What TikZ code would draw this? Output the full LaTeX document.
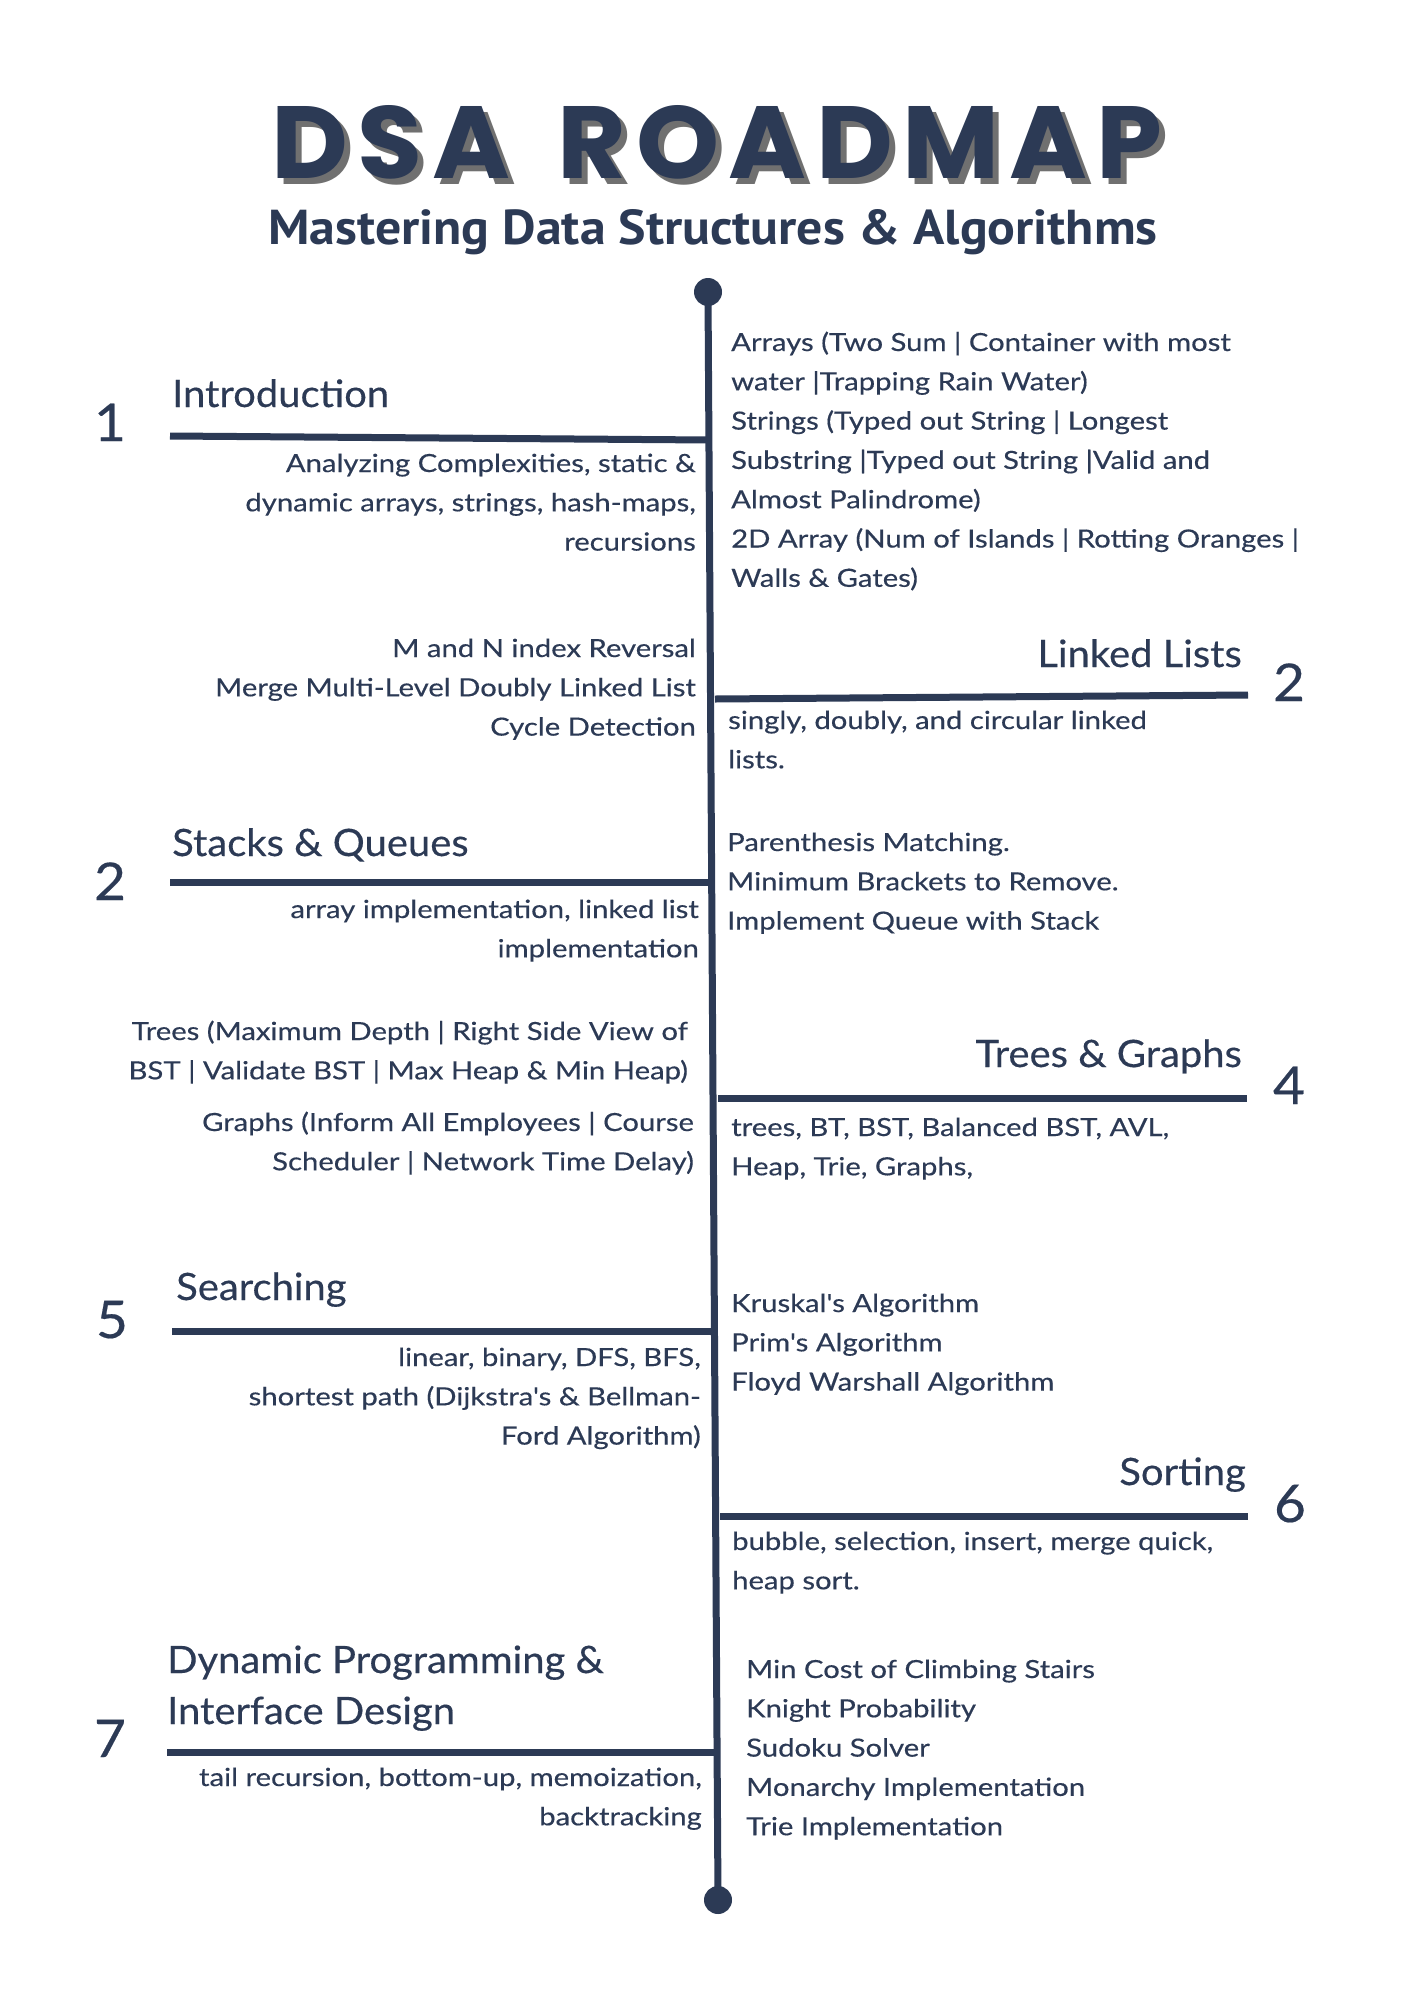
\documentclass[tikz,border=0pt]{standalone}
\usepackage{fontspec}
\usepackage{graphicx}
\setmainfont{Lato}
\newfontfamily\bodyfont{Lato}[FakeStretch=1.17,FakeBold=0.35]
\newfontfamily\headfont{Lato}[FakeStretch=1.06,FakeBold=0.35]
\newfontfamily\titlefont{Poppins}[LetterSpace=9]
\newfontfamily\subfont{PT Sans}
\definecolor{navy}{HTML}{2C3A55}
\definecolor{shadowgray}{HTML}{707070}
\newcommand{\Rblock}[1]{\begin{tabular}[t]{@{}r@{}}#1\end{tabular}}
\newcommand{\Lblock}[1]{\begin{tabular}[t]{@{}l@{}}#1\end{tabular}}
\newcommand{\TitleWord}{\resizebox{891pt}{73pt}{\titlefont\bfseries DSA\hspace{0.45em}ROADMAP}}
\tikzset{
  bodytext/.style={inner sep=0, text=navy, font=\bodyfont\fontsize{25}{39.3}\selectfont},
  headtext/.style={inner sep=0, text=navy, font=\headfont\fontsize{37.7}{51}\selectfont},
  numtext/.style={inner sep=0, text=navy, anchor=base, font=\headfont\fontsize{52}{60}\selectfont},
  spine/.style={draw=navy, line width=7pt},
  branch/.style={draw=navy, line width=7pt},
  enddot/.style={circle, fill=navy, inner sep=0, minimum size=28pt},
}
\begin{document}
\begin{tikzpicture}[x=1pt,y=-1pt]
\useasboundingbox[fill=white] (0,0) rectangle (1414,2000);

% title (with its grey shadow in the same node)
\node[anchor=base, inner sep=0] (title) at (717,178) {\makebox[0pt][l]{\hspace{6pt}\raisebox{-6pt}{\textcolor{shadowgray}{\TitleWord}}}\textcolor{navy}{\TitleWord}};
\node[anchor=base, text=navy, inner sep=0] (subtitle) at (713,244) {\resizebox{889pt}{35pt}{\subfont\bfseries Mastering Data Structures \& Algorithms}};

% spine
\node[enddot] (topdot) at (708,292) {};
\node[enddot] (botdot) at (718,1900) {};
\draw[spine] (topdot.center) -- (botdot.center);

% junctions and branch ends
\coordinate (j1) at (710,440);  \coordinate (e1) at (170,436);
\coordinate (j2) at (715,699);  \coordinate (e2) at (1248,695);
\coordinate (j3) at (712,882);  \coordinate (e3) at (170,882);
\coordinate (j4) at (718,1098); \coordinate (e4) at (1247,1098);
\coordinate (j5) at (713,1331); \coordinate (e5) at (172,1331);
\coordinate (j6) at (720,1516); \coordinate (e6) at (1248,1516);
\coordinate (j7) at (715,1752); \coordinate (e7) at (167,1752);
\draw[branch] (j1) -- (e1);
\draw[branch] (j2) -- (e2);
\draw[branch] (j3) -- (e3);
\draw[branch] (j4) -- (e4);
\draw[branch] (j5) -- (e5);
\draw[branch] (j6) -- (e6);
\draw[branch] (j7) -- (e7);

% numbers
\node[numtext] (n1) at (110,441) {1};
\node[numtext] (n2) at (1289,701) {2};
\node[numtext] (n3) at (110,900) {2};
\node[numtext] (n4) at (1289,1104) {4};
\node[numtext] (n5) at (112,1338) {5};
\node[numtext] (n6) at (1290,1522) {6};
\node[numtext] (n7) at (110,1757) {7};

% headings
\node[headtext, anchor=base west] (h1) at (172,407) {Introduction};
\node[headtext, anchor=base east] (h2) at (1242,667) {Linked Lists};
\node[headtext, anchor=base west] (h3) at (172,856) {Stacks \& Queues};
\node[headtext, anchor=base east] (h4) at (1242,1067) {Trees \& Graphs};
\node[headtext, anchor=base west] (h5) at (176,1300) {Searching};
\node[headtext, anchor=base east] (h6) at (1246,1485) {Sorting};
\node[headtext, anchor=base west] (h7) at (167,1673) {\Lblock{Dynamic Programming \&\\Interface Design}};

% left descriptions
\node[bodytext, anchor=base east] (d1) at (696,472) {\Rblock{Analyzing Complexities, static \&\\dynamic arrays, strings, hash-maps,\\recursions}};
\node[bodytext, anchor=base east] (d2) at (696,657) {\Rblock{M and N index Reversal\\Merge Multi-Level Doubly Linked List\\Cycle Detection}};
\node[bodytext, anchor=base east] (d3) at (699,918) {\Rblock{array implementation, linked list\\implementation}};
\node[bodytext, anchor=base east] (d4a) at (688,1040) {\Rblock{Trees (Maximum Depth | Right Side View of\\BST | Validate BST | Max Heap \& Min Heap)}};
\node[bodytext, anchor=base east] (d4b) at (694,1131) {\Rblock{Graphs (Inform All Employees | Course\\Scheduler | Network Time Delay)}};
\node[bodytext, anchor=base east] (d5) at (701,1366) {\Rblock{linear, binary, DFS, BFS,\\shortest path (Dijkstra's \& Bellman-\\Ford Algorithm)}};
\node[bodytext, anchor=base east] (d7) at (702,1786) {\Rblock{tail recursion, bottom-up, memoization,\\backtracking}};

% right descriptions
\node[bodytext, anchor=base west] (r1) at (731,351) {\Lblock{Arrays (Two Sum | Container with most\\water |Trapping Rain Water)\\Strings (Typed out String | Longest\\Substring |Typed out String |Valid and\\Almost Palindrome)\\2D Array (Num of Islands | Rotting Oranges |\\Walls \& Gates)}};
\node[bodytext, anchor=base west] (r2) at (728,729) {\Lblock{singly, doubly, and circular linked\\lists.}};
\node[bodytext, anchor=base west] (r3) at (727,851) {\Lblock{Parenthesis Matching.\\Minimum Brackets to Remove.\\Implement Queue with Stack}};
\node[bodytext, anchor=base west] (r4) at (731,1136) {\Lblock{trees, BT, BST, Balanced BST, AVL,\\Heap, Trie, Graphs,}};
\node[bodytext, anchor=base west] (r5) at (731,1312) {\Lblock{Kruskal's Algorithm\\Prim's Algorithm\\Floyd Warshall Algorithm}};
\node[bodytext, anchor=base west] (r6) at (732,1550) {\Lblock{bubble, selection, insert, merge quick,\\heap sort.}};
\node[bodytext, anchor=base west] (r7) at (746,1678) {\Lblock{Min Cost of Climbing Stairs\\Knight Probability\\Sudoku Solver\\Monarchy Implementation\\Trie Implementation}};
\end{tikzpicture}
\end{document}
